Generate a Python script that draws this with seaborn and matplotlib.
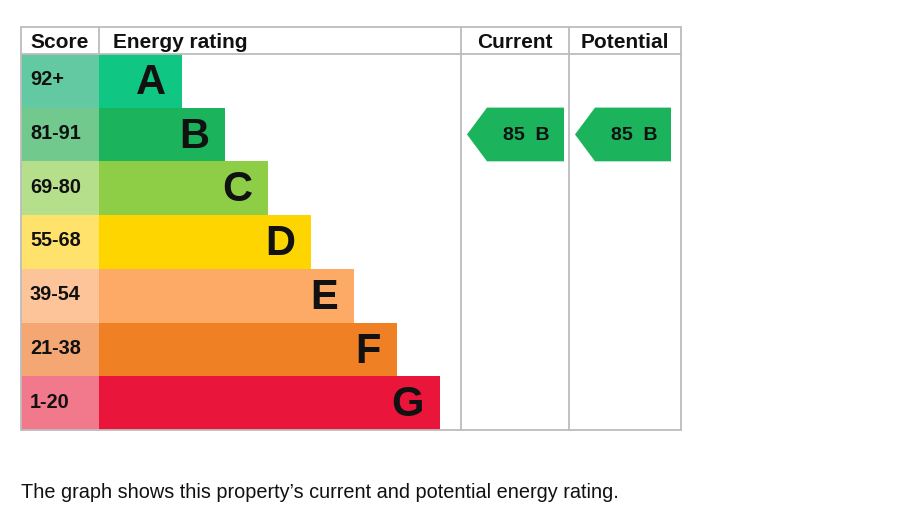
import matplotlib
matplotlib.use("Agg")
import matplotlib.pyplot as plt
from matplotlib.patches import Polygon
import seaborn as sns
import pandas as pd

# ---- data ----
bands = ["A", "B", "C", "D", "E", "F", "G"]
score_ranges = ["92+", "81-91", "69-80", "55-68", "39-54", "21-38", "1-20"]
bar_lengths = [83, 126, 169, 212, 255, 298, 341]
bar_colors = ["#0fc683", "#1bb35c", "#8dce46", "#ffd500", "#fcaa65", "#ef8023", "#e9153b"]
score_colors = ["#62c9a2", "#72c98e", "#b5df8b", "#ffe26b", "#fdc49a", "#f4a673", "#f1798b"]
current_score = 85
current_band = "B"
potential_score = 85
potential_band = "B"
headers = ["Score", "Energy rating", "Current", "Potential"]
footer = "The graph shows this property\u2019s current and potential energy rating."

sns.set_theme(style="white")
plt.rcParams["font.family"] = ["Liberation Sans", "DejaVu Sans"]

W, H = 904, 528
fig = plt.figure(figsize=(W / 100, H / 100), dpi=100)
fig.patch.set_facecolor("white")

# table region in pixels
tx0, tx1, ty0, ty1 = 21, 681, 27, 430
ax = fig.add_axes([tx0 / W, 1 - ty1 / H, (tx1 - tx0) / W, (ty1 - ty0) / H])

score_w = 78  # score column width (x=0 is the start of the rating bars)
df = pd.DataFrame({"band": bands, "length": bar_lengths, "neg": [-score_w] * len(bands)})

sns.barplot(data=df, x="length", y="band", hue="band", palette=bar_colors, saturation=1,
            orient="h", width=1.0, linewidth=0, legend=False, ax=ax, dodge=False)
sns.barplot(data=df, x="neg", y="band", hue="band", palette=score_colors, saturation=1,
            orient="h", width=1.0, linewidth=0, legend=False, ax=ax, dodge=False)

xmin, xmax = -score_w, tx1 - tx0 - score_w
ax.set_xlim(xmin, xmax)
ax.set_ylim(6.5, -1.0)
ax.set_axis_off()

grey = "#bcbcbc"
col1 = 461 - 99
col2 = 569 - 99
lw = 1.3
# borders
ax.plot([xmin, xmax], [-1.0, -1.0], color=grey, lw=lw, clip_on=False)
ax.plot([xmin, xmax], [-0.5, -0.5], color=grey, lw=lw, clip_on=False)
ax.plot([xmin, xmax], [6.5, 6.5], color=grey, lw=lw, clip_on=False)
ax.plot([xmin, xmin], [-1.0, 6.5], color=grey, lw=lw, clip_on=False)
ax.plot([xmax, xmax], [-1.0, 6.5], color=grey, lw=lw, clip_on=False)
ax.plot([0, 0], [-1.0, -0.5], color=grey, lw=lw, clip_on=False)
ax.plot([col1, col1], [-1.0, 6.5], color=grey, lw=lw, clip_on=False)
ax.plot([col2, col2], [-1.0, 6.5], color=grey, lw=lw, clip_on=False)

# headers
hy = -0.72
hs = 15
ax.text(xmin + 9, hy, headers[0], ha="left", va="center", fontsize=hs, fontweight="bold", color="#111111")
ax.text(14, hy, headers[1], ha="left", va="center", fontsize=hs, fontweight="bold", color="#111111")
ax.text((col1 + col2) / 2, hy, headers[2], ha="center", va="center", fontsize=hs, fontweight="bold", color="#111111")
ax.text((col2 + xmax) / 2, hy, headers[3], ha="center", va="center", fontsize=hs, fontweight="bold", color="#111111")

# score labels and letters
for i, (rng, b, L) in enumerate(zip(score_ranges, bands, bar_lengths)):
    ax.text(xmin + 9, i - 0.02, rng, ha="left", va="center", fontsize=14.3, fontweight="bold", color="#111111")
    ax.text(L - 16, i + 0.04, b, ha="right", va="center", fontsize=30, fontweight="bold", color="#111111")


def arrow(x_left, x_right, band, score, letter):
    i = bands.index(band)
    tip = 20
    y0, y1 = i - 0.5, i + 0.5
    poly = Polygon([[x_left, i], [x_left + tip, y0], [x_right, y0], [x_right, y1], [x_left + tip, y1]],
                   closed=True, facecolor=bar_colors[i], edgecolor="none")
    ax.add_patch(poly)
    ax.text((x_left + tip + x_right) / 2 + 1, i + 0.02, f"{score}  {letter}", ha="center", va="center",
            fontsize=14, fontweight="bold", color="#111111")


arrow(467 - 99, 564 - 99, current_band, current_score, current_band)
arrow(575 - 99, 671 - 99, potential_band, potential_score, potential_band)

fig.text(21 / W, 1 - 493 / H, footer, ha="left", va="center", fontsize=14.3, color="#111111")

fig.savefig("out.png", dpi=100, facecolor="white")
